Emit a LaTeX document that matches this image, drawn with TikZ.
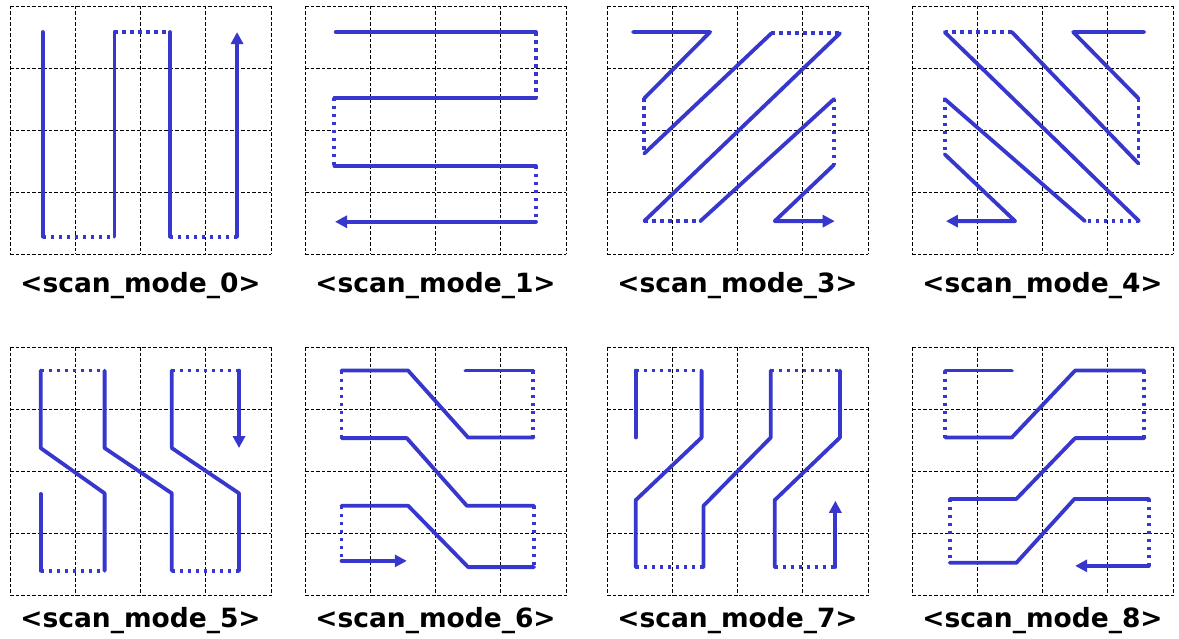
\documentclass[tikz,border=0pt]{standalone}
\usepackage{fontspec}
\setmainfont{DejaVu Sans}
\usetikzlibrary{arrows.meta}
\definecolor{scanblue}{RGB}{55,55,205}

\begin{document}
\begin{tikzpicture}[x=1pt, y=-1pt,
    cellgrid/.style={black, line width=0.9pt, dash pattern=on 3.5pt off 2pt},
    scan/.style={scanblue, line width=3.8pt, line join=round, line cap=round},
    jump/.style={scanblue, line width=3.8pt, dash pattern=on 3.5pt off 4.5pt},
    scanarrow/.style={scan, -{Triangle[length=12pt, width=12pt]}},
    lbl/.style={anchor=base, font=\bfseries\fontsize{26.5}{30}\selectfont}]
  \useasboundingbox (0,0) rectangle (1179,639);

  % dashed 4x4 grids
  \foreach \px/\py in {10/6, 305/6, 607/6, 912/6, 10/347, 305/347, 607/347, 912/347} {
    \begin{scope}[shift={(\px,\py)}, x=65.25pt, y=-62pt]
      \foreach \i in {0,...,4} {
        \draw[cellgrid] (\i,0) -- (\i,4);
        \draw[cellgrid] (0,\i) -- (4,\i);
      }
    \end{scope}
  }

  % scan_mode_0
  \begin{scope}[shift={(10,6)}, x=65.25pt, y=-62pt]
    \draw[scan] (0.50,0.42) -- (0.50,3.72);
    \draw[jump] (0.50,3.72) -- (1.60,3.72);
    \draw[scan] (1.60,3.72) -- (1.60,0.42);
    \draw[jump] (1.60,0.42) -- (2.45,0.42);
    \draw[scan] (2.45,0.42) -- (2.45,3.72);
    \draw[jump] (2.45,3.72) -- (3.48,3.72);
    \draw[scanarrow] (3.48,3.72) -- (3.48,0.42);
    \node[lbl] (mode0) at (2,4.62) {<scan\_mode\_0>};
  \end{scope}

  % scan_mode_1
  \begin{scope}[shift={(305,6)}, x=65.25pt, y=-62pt]
    \draw[scan] (0.47,0.42) -- (3.54,0.42);
    \draw[jump] (3.54,0.42) -- (3.54,1.48);
    \draw[scan] (3.54,1.48) -- (0.45,1.48);
    \draw[jump] (0.45,1.48) -- (0.45,2.58);
    \draw[scan] (0.45,2.58) -- (3.54,2.58);
    \draw[jump] (3.54,2.58) -- (3.54,3.48);
    \draw[scanarrow] (3.54,3.48) -- (0.46,3.48);
    \node[lbl] (mode1) at (2,4.62) {<scan\_mode\_1>};
  \end{scope}

  % scan_mode_3
  \begin{scope}[shift={(607,6)}, x=65.25pt, y=-62pt]
    \draw[scan] (0.40,0.42) -- (1.58,0.42) -- (0.57,1.49);
    \draw[jump] (0.57,1.49) -- (0.57,2.38);
    \draw[scan] (0.57,2.38) -- (2.52,0.44);
    \draw[jump] (2.52,0.44) -- (3.57,0.44);
    \draw[scan] (3.57,0.44) -- (0.57,3.47);
    \draw[jump] (0.57,3.47) -- (1.43,3.47);
    \draw[scan] (1.43,3.47) -- (3.48,1.50);
    \draw[jump] (3.48,1.50) -- (3.48,2.56);
    \draw[scanarrow] (3.48,2.56) -- (2.57,3.47) -- (3.49,3.47);
    \node[lbl] (mode3) at (2,4.62) {<scan\_mode\_3>};
  \end{scope}

  % scan_mode_4
  \begin{scope}[shift={(912,6)}, x=65.25pt, y=-62pt]
    \draw[scan] (3.56,0.42) -- (2.47,0.42) -- (3.47,1.49);
    \draw[jump] (3.47,1.49) -- (3.47,2.54);
    \draw[scan] (3.47,2.54) -- (1.53,0.42);
    \draw[jump] (1.53,0.42) -- (0.50,0.42);
    \draw[scan] (0.50,0.42) -- (3.48,3.47);
    \draw[jump] (3.48,3.47) -- (2.65,3.47);
    \draw[scan] (2.65,3.47) -- (0.50,1.50);
    \draw[jump] (0.50,1.50) -- (0.50,2.39);
    \draw[scanarrow] (0.50,2.39) -- (1.58,3.47) -- (0.52,3.47);
    \node[lbl] (mode4) at (2,4.62) {<scan\_mode\_4>};
  \end{scope}

  % scan_mode_5
  \begin{scope}[shift={(10,347)}, x=65.25pt, y=-62pt]
    \draw[scan] (0.47,2.37) -- (0.47,3.61);
    \draw[jump] (0.47,3.61) -- (1.45,3.61);
    \draw[scan] (1.45,3.61) -- (1.45,2.36) -- (0.47,1.63) -- (0.47,0.38);
    \draw[jump] (0.47,0.38) -- (1.45,0.38);
    \draw[scan] (1.45,0.38) -- (1.45,1.63) -- (2.48,2.36) -- (2.48,3.61);
    \draw[jump] (2.48,3.61) -- (3.51,3.61);
    \draw[scan] (3.51,3.61) -- (3.51,2.36) -- (2.48,1.63) -- (2.48,0.38);
    \draw[jump] (2.48,0.38) -- (3.51,0.38);
    \draw[scanarrow] (3.51,0.38) -- (3.51,1.63);
    \node[lbl] (mode5) at (2,4.52) {<scan\_mode\_5>};
  \end{scope}

  % scan_mode_6
  \begin{scope}[shift={(305,347)}, x=65.25pt, y=-62pt]
    \draw[scan] (2.46,0.38) -- (3.50,0.38);
    \draw[jump] (3.50,0.38) -- (3.50,1.46);
    \draw[scan] (3.50,1.46) -- (2.50,1.46) -- (1.58,0.38) -- (0.56,0.38);
    \draw[jump] (0.56,0.38) -- (0.56,1.47);
    \draw[scan] (0.56,1.47) -- (1.56,1.47) -- (2.48,2.56) -- (3.51,2.56);
    \draw[jump] (3.51,2.56) -- (3.51,3.55);
    \draw[scan] (3.51,3.55) -- (2.50,3.55) -- (1.58,2.56) -- (0.56,2.56);
    \draw[jump] (0.56,2.56) -- (0.56,3.45);
    \draw[scanarrow] (0.56,3.45) -- (1.56,3.45);
    \node[lbl] (mode6) at (2,4.52) {<scan\_mode\_6>};
  \end{scope}

  % scan_mode_7
  \begin{scope}[shift={(607,347)}, x=65.25pt, y=-62pt]
    \draw[scan] (0.44,1.46) -- (0.44,0.38);
    \draw[jump] (0.44,0.38) -- (1.45,0.38);
    \draw[scan] (1.45,0.38) -- (1.45,1.46) -- (0.44,2.47) -- (0.44,3.55);
    \draw[jump] (0.44,3.55) -- (1.48,3.55);
    \draw[scan] (1.48,3.55) -- (1.48,2.56) -- (2.51,1.46) -- (2.51,0.38);
    \draw[jump] (2.51,0.38) -- (3.57,0.38);
    \draw[scan] (3.57,0.38) -- (3.57,1.46) -- (2.57,2.47) -- (2.57,3.55);
    \draw[jump] (2.57,3.55) -- (3.50,3.55);
    \draw[scanarrow] (3.50,3.55) -- (3.50,2.48);
    \node[lbl] (mode7) at (2,4.52) {<scan\_mode\_7>};
  \end{scope}

  % scan_mode_8
  \begin{scope}[shift={(912,347)}, x=65.25pt, y=-62pt]
    \draw[scan] (1.53,0.38) -- (0.51,0.38);
    \draw[jump] (0.51,0.38) -- (0.51,1.46);
    \draw[scan] (0.51,1.46) -- (1.53,1.46) -- (2.50,0.38) -- (3.56,0.38);
    \draw[jump] (3.56,0.38) -- (3.56,1.47);
    \draw[scan] (3.56,1.47) -- (2.50,1.47) -- (1.60,2.45) -- (0.58,2.45);
    \draw[jump] (0.58,2.45) -- (0.58,3.48);
    \draw[scan] (0.58,3.48) -- (1.60,3.48) -- (2.49,2.45) -- (3.63,2.45);
    \draw[jump] (3.63,2.45) -- (3.63,3.53);
    \draw[scanarrow] (3.63,3.53) -- (2.50,3.53);
    \node[lbl] (mode8) at (2,4.52) {<scan\_mode\_8>};
  \end{scope}
\end{tikzpicture}
\end{document}
